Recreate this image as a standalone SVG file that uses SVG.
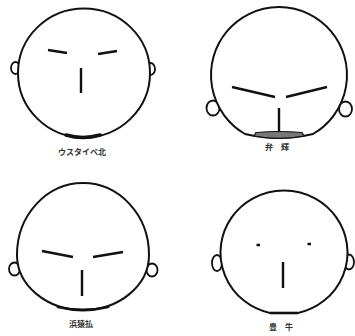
<svg xmlns="http://www.w3.org/2000/svg" width="355" height="336" viewBox="0 0 355 336">
  <style>
    .face { fill: #fff; stroke: #111; stroke-width: 2; }
    .ear { fill: #fff; stroke: #111; stroke-width: 1.8; }
    .feat { fill: none; stroke: #111; stroke-width: 2.4; stroke-linecap: butt; }
    .jaw { fill: none; stroke: #111; stroke-linecap: round; }
    .lbl { font-family: "Noto Sans CJK JP", "Noto Sans", sans-serif; font-size: 8px; font-weight: 700; fill: #333; text-anchor: middle; }
  </style>
  <rect width="355" height="336" fill="#fff"/>

  <!-- top left -->
  <g id="face-usutaibe">
    <ellipse class="ear" cx="15.5" cy="68" rx="4.5" ry="6"/>
    <ellipse class="ear" cx="150.5" cy="69" rx="4.5" ry="6"/>
    <ellipse class="face" cx="84" cy="73" rx="66" ry="64.5"/>
    <path class="jaw" d="M66,135 Q83,140 100,135" style="stroke-width:3.6"/>
    <path class="feat" d="M48,50 L67,53 M98,54 L117,51 M81,68 L81,93"/>
    <text class="lbl" x="82" y="155">ウスタイベ北</text>
  </g>

  <!-- top right -->
  <g id="face-benki">
    <ellipse class="ear" cx="213" cy="108" rx="6.5" ry="7.5"/>
    <ellipse class="ear" cx="345.5" cy="109" rx="6.5" ry="7.5"/>
    <path class="face" d="M245,134 A68 68 0 1 1 313,134 Q279,142 245,134 Z"/>
    <path d="M256,132.5 Q279,130.5 302,132.5 L304,136 Q279,140.5 254,136 Z" style="fill:#777; stroke:#111; stroke-width:1.2"/>
    <path class="feat" d="M232,87 L275,97 M286,97 L327,87 M279,108 L279,132"/>
    <text class="lbl" x="277" y="150">弁　輝</text>
  </g>

  <!-- bottom left -->
  <g id="face-hamasarufutsu">
    <ellipse class="ear" cx="14.5" cy="269" rx="5.5" ry="6.5"/>
    <ellipse class="ear" cx="152" cy="270" rx="5.5" ry="6.5"/>
    <path class="face" d="M17,255 A66 72 0 0 1 149,255 A66 55 0 0 1 17,255 Z"/>
    <path class="jaw" d="M58,307 Q83,313 108,307" style="stroke-width:2.8"/>
    <path class="feat" d="M42,251 L73,257 M93,257 L123,252 M82,270 L82,296"/>
    <text class="lbl" x="81" y="327">浜猿払</text>
  </g>

  <!-- bottom right -->
  <g id="face-toyoushi">
    <ellipse class="ear" cx="217" cy="263" rx="5" ry="8"/>
    <ellipse class="ear" cx="349" cy="262" rx="5" ry="7.5"/>
    <path class="face" d="M270,313 A63.5 62 0 1 1 298,313 Z"/>
    <path class="feat" d="M256.5,245 L260,245 M307.5,244 L311,244 M283,262 L283,288"/>
    <path class="feat" d="M270,313 L298,313" style="stroke-width:2.6"/>
    <text class="lbl" x="281" y="330">豊　牛</text>
  </g>
</svg>
